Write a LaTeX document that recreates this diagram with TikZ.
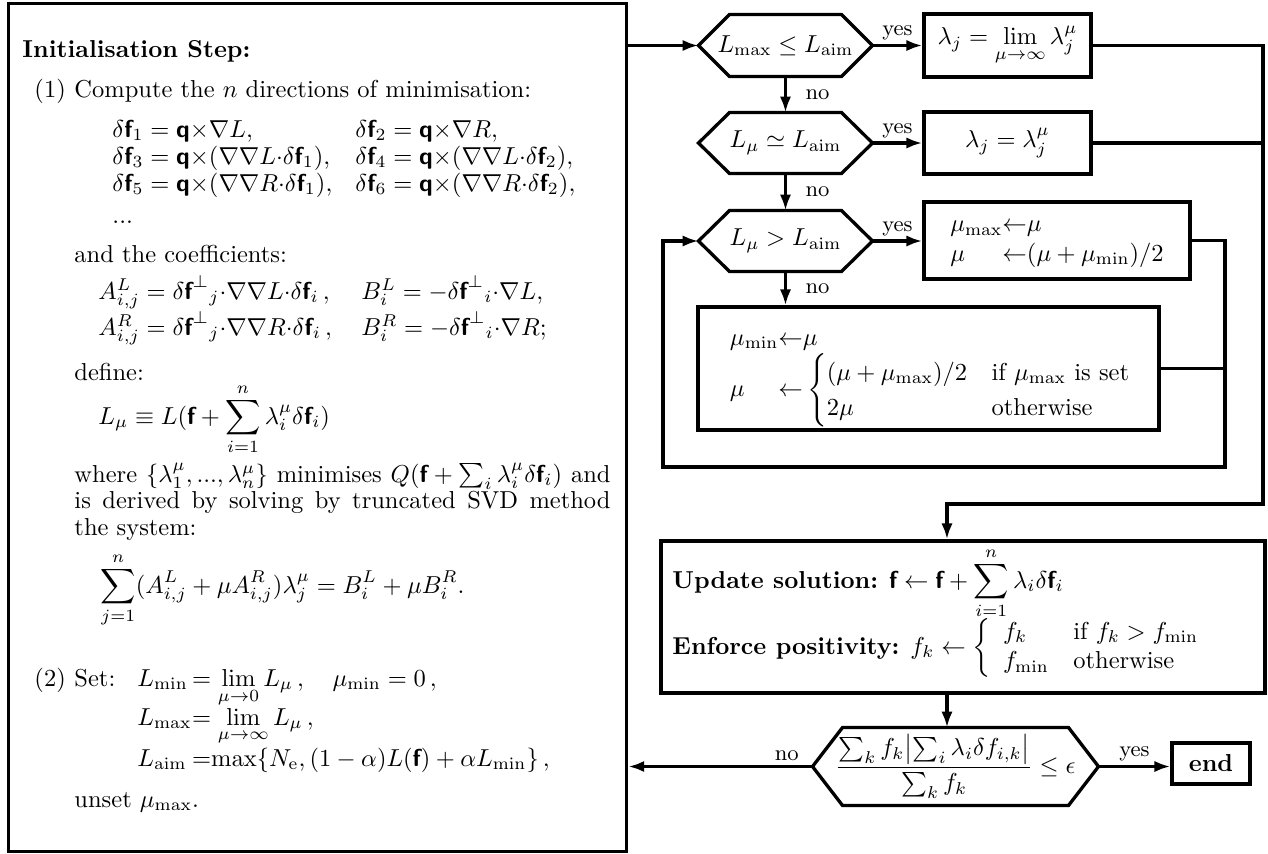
\documentclass[tikz,border=0pt]{standalone}
\usepackage{amsmath}
\usetikzlibrary{arrows.meta,calc}
\def\pxu{0.4082pt}
\newcommand\vf{\text{\normalfont\sffamily\bfseries f}}
\newcommand\vq{\text{\normalfont\sffamily\bfseries q}}
\newcommand\hexborder[2]{\draw[ln] ([xshift=#2*\pxu]#1.north west) -- ([xshift=-#2*\pxu]#1.north east) -- (#1.east) -- ([xshift=-#2*\pxu]#1.south east) -- ([xshift=#2*\pxu]#1.south west) -- (#1.west) -- cycle;}
\begin{document}
\begin{tikzpicture}[x=\pxu,y=-\pxu,
  ln/.style={line width=1.35pt},
  arr/.style={line width=1.35pt,-{Latex[length=6.5pt,width=4.6pt]}},
  box/.style={draw,line width=1.35pt,inner sep=0pt,align=center},
  hexnode/.style={inner sep=0pt},
  txt/.style={inner sep=0pt,anchor=base west},
  lbl/.style={inner sep=1.5pt,font=\small}]
\fill[white] (0,0) rectangle (1268,853);
\useasboundingbox (0,0) rectangle (1268,853);

% ---------- left panel ----------
\node[box,anchor=north west,minimum width=618.5*\pxu,minimum height=848.5*\pxu] (init) at (6.5,1.5) {};
\node[txt] (t0) at (22,57) {\textbf{Initialisation Step:}};
\node[txt] (t1n) at (34,97) {(1)};
\node[txt] (t1) at (74,97) {Compute the $n$ directions of minimisation:};
\node[txt] (d1) at (112,137) {$\delta\vf_1 = \vq{\times}\nabla L,$};
\node[txt] (d2) at (355,137) {$\delta\vf_2 = \vq{\times}\nabla R,$};
\node[txt] (d3) at (112,164) {$\delta\vf_3 = \vq{\times}(\nabla\nabla L{\cdot}\delta\vf_1),$};
\node[txt] (d4) at (355,164) {$\delta\vf_4 = \vq{\times}(\nabla\nabla L{\cdot}\delta\vf_2),$};
\node[txt] (d5) at (112,191) {$\delta\vf_5 = \vq{\times}(\nabla\nabla R{\cdot}\delta\vf_1),$};
\node[txt] (d6) at (355,191) {$\delta\vf_6 = \vq{\times}(\nabla\nabla R{\cdot}\delta\vf_2),$};
\node[txt] (dd) at (112,223) {...};
\node[txt] (t2) at (74,262) {and the coefficients:};
\node[txt] (a1) at (98,299) {$A^L_{i,j} = \delta\vf^{\perp}{}_j{\cdot}\nabla\nabla L{\cdot}\delta\vf_i\,,$};
\node[txt] (b1t) at (361,299) {$B^L_i = -\delta\vf^{\perp}{}_i{\cdot}\nabla L,$};
\node[txt] (a2) at (98,335) {$A^R_{i,j} = \delta\vf^{\perp}{}_j{\cdot}\nabla\nabla R{\cdot}\delta\vf_i\,,$};
\node[txt] (b2t) at (361,335) {$B^R_i = -\delta\vf^{\perp}{}_i{\cdot}\nabla R;$};
\node[txt] (t3) at (74,380) {define:};
\node[txt] (lm) at (98,424) {$\displaystyle L_\mu \equiv L(\vf + \sum_{i=1}^n \lambda_i^\mu\delta\vf_i)$};
\node[txt] (w1) at (74,482) {\makebox[218.8pt][s]{where $\{\lambda^\mu_1,...,\lambda^\mu_n\}$ minimises $Q(\vf+\sum_i\lambda^\mu_i\delta\vf_i)$ and}};
\node[txt] (w2) at (74,508) {\makebox[218.8pt][s]{is derived by solving by truncated SVD method}};
\node[txt] (w3) at (74,535) {the system:};
\node[txt] (sy) at (100,593) {$\displaystyle\sum_{j=1}^n(A^L_{i,j}+\mu A^R_{i,j})\lambda^\mu_j = B^L_i+\mu B^R_i.$};
\node[txt] (s2n) at (34,686) {(2)};
\node[txt] (s2) at (74,686) {Set:};
\node[txt] (r1) at (137,686) {\makebox[22.3pt][l]{$L_{\min}$}$=\displaystyle\lim_{\mu\to0}L_\mu\,,\quad \mu_{\min}=0\,,$};
\node[txt] (r2) at (137,725) {\makebox[22.3pt][l]{$L_{\max}$}$=\displaystyle\lim_{\mu\to\infty}L_\mu\,,$};
\node[txt] (r3) at (137,766) {\makebox[22.3pt][l]{$L_{\mathrm{aim}}$}${=}\mathrm{max}\{N_{\mathrm e},(1-\alpha)L(\vf)+\alpha L_{\min}\}\,,$};
\node[txt] (un) at (74,807) {unset $\mu_{\max}$.};

% ---------- right flowchart ----------
\node[hexnode,minimum width=173*\pxu,minimum height=61*\pxu] (h1) at (785.5,45.5) {$L_{\max}\le L_{\mathrm{aim}}$};
\node[hexnode,minimum width=173*\pxu,minimum height=60*\pxu] (h2) at (785.5,143) {$L_\mu\simeq L_{\mathrm{aim}}$};
\node[hexnode,minimum width=173*\pxu,minimum height=60*\pxu] (h3) at (785.5,241) {$L_\mu > L_{\mathrm{aim}}$};
\node[hexnode,minimum width=285*\pxu,minimum height=77*\pxu] (h4) at (955.5,766.5)
  {$\dfrac{\sum_k f_k\bigl|\sum_i\lambda_i\delta f_{i,k}\bigr|}{\sum_k f_k}\le\epsilon$};
\hexborder{h1}{31}
\hexborder{h2}{31}
\hexborder{h3}{31}
\hexborder{h4}{30}

\node[box,minimum width=167*\pxu,minimum height=63*\pxu] (b1) at (1007.5,45.5) {$\lambda_j = \displaystyle\lim_{\mu\to\infty}\lambda_j^\mu$};
\node[box,minimum width=167*\pxu,minimum height=62*\pxu] (b2) at (1007.5,143) {$\lambda_j=\lambda_j^\mu$};
\node[box,minimum width=266*\pxu,minimum height=77*\pxu] (b3) at (1057,240.5)
  {$\begin{array}{@{}l@{}l@{}}\mu_{\max}&{\leftarrow}\mu\\ \mu&{\leftarrow}(\mu+\mu_{\min})/2\end{array}$};
\node[box,minimum width=461*\pxu,minimum height=123*\pxu] (b4) at (928.5,368.5) {};
\node[inner sep=0pt] (b4t) at (931,376)
  {$\begin{array}{@{}l@{}l@{}}\mu_{\min}&{\leftarrow}\mu\\ \mu\quad&{\leftarrow}\begin{cases}(\mu+\mu_{\max})/2 & \text{if $\mu_{\max}$ is set}\\ 2\mu & \text{otherwise}\end{cases}\end{array}$};
\node[box,minimum width=604*\pxu,minimum height=152*\pxu] (up) at (963,617) {};
\node[txt] (u1) at (672,588) {\textbf{Update solution:} $\vf\leftarrow\vf+\displaystyle\sum_{i=1}^n\lambda_i\delta\vf_i$};
\node[txt] (u2) at (672,654) {\textbf{Enforce positivity:} $f_k\leftarrow\left\{\begin{array}{ll} f_k & \text{if } f_k>f_{\min}\\ f_{\min} & \text{otherwise}\end{array}\right.$};
\node[box,minimum width=78*\pxu,minimum height=41*\pxu,font=\bfseries] (end) at (1211,763.5) {end};

\coordinate (rA) at (1263,45.5);
\coordinate (rB) at (1263,504);
\coordinate (turn) at (947,504);
\coordinate (lA) at (1225,240.5);
\coordinate (lB) at (1225,467);
\coordinate (lC) at (663,467);

% connectors
\draw[arr] (init.east |- h1.west) -- (h1.west);
\draw[arr] (h1.east) -- node[lbl,above] {yes} (b1.west);
\draw[arr] (h2.east) -- node[lbl,above] {yes} (b2.west);
\draw[arr] (h3.east) -- node[lbl,above] {yes} (b3.west |- h3.east);
\draw[arr] (h1.south) -- node[lbl,right=6pt] {no} (h2.north);
\draw[arr] (h2.south) -- node[lbl,right=6pt] {no} (h3.north);
\draw[arr] (h3.south) -- node[lbl,right=6pt] {no} (h3.south |- b4.north);
\draw[arr] (b1.east) -- (rA) -- (rB) -- (turn) -- (turn |- up.north);
\draw[ln] (b2.east) -- (b2.east -| rA);
\draw[arr] (b3.east) -- (lA) -- (lB) -- (lC) |- (h3.west);
\draw[ln] (b4.east) -- (b4.east -| lA);
\draw[arr] (turn |- up.south) -- (turn |- h4.north);
\draw[arr] (h4.east) -- node[lbl,above] {yes} (h4.east -| end.west);
\draw[arr] (h4.west) -- node[lbl,above,pos=0.14] {no} (h4.west -| init.east);
\end{tikzpicture}
\end{document}
